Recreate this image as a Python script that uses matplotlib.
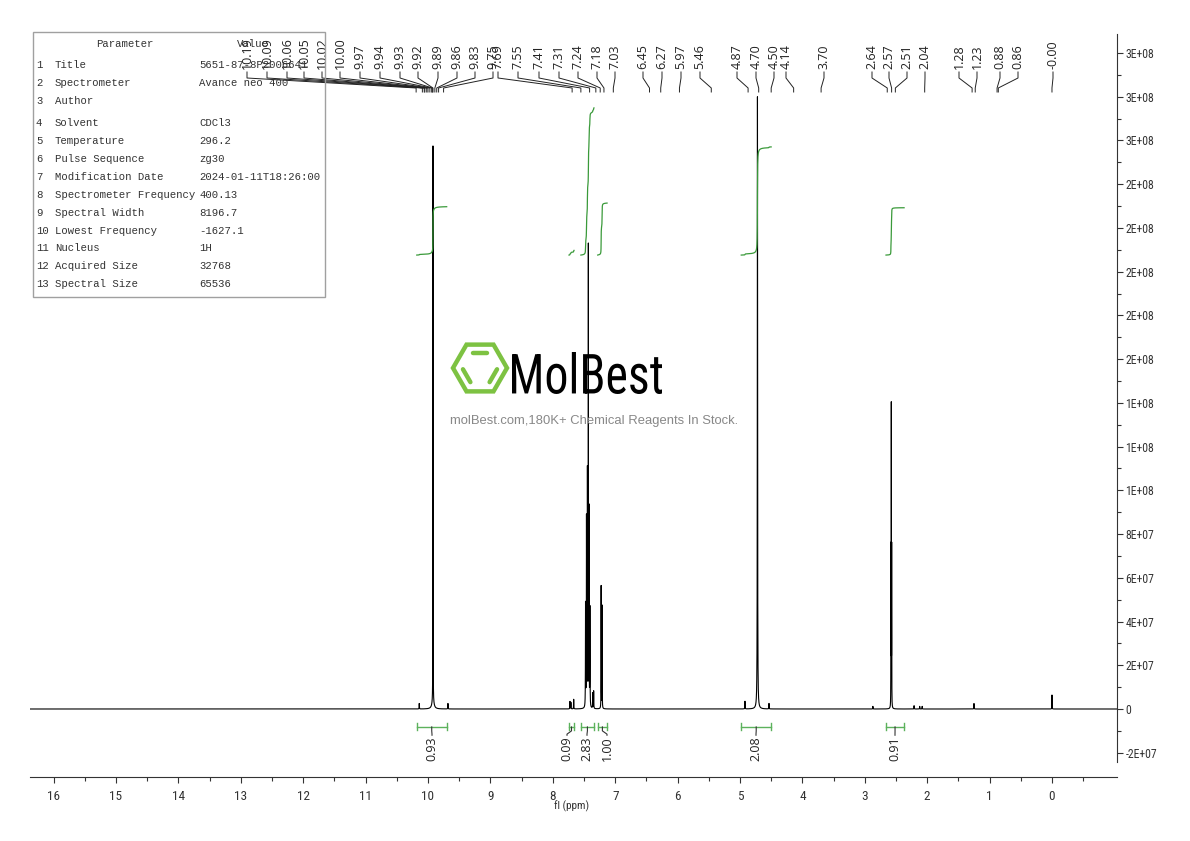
import numpy as np
import matplotlib
matplotlib.use("Agg")
import matplotlib.pyplot as plt
import matplotlib.transforms as mtransforms
from matplotlib.textpath import TextPath
from matplotlib.patches import PathPatch, Polygon, Rectangle
from matplotlib.font_manager import FontProperties, findfont
from matplotlib.ticker import FixedLocator, FuncFormatter

W, H = 1190, 841

# spectrum lines: shift (ppm), height, half width (ppm)
peak_ppm = [10.14, 9.92, 9.92, 9.68,
            7.725, 7.71, 7.665,
            7.475, 7.46, 7.445, 7.43, 7.42, 7.405, 7.36, 7.345,
            7.225, 7.21,
            4.92, 4.72, 4.535,
            2.87, 2.575, 2.581, 2.569, 2.21, 2.12, 2.08, 1.25, 0.00]
peak_height = [2.5e6, 2.545e8, 3.0e6, 2.5e6,
               3.4e6, 3.0e6, 4.4e6,
               4.7e7, 8.6e7, 1.08e8, 2.07e8, 9.0e7, 4.5e7, 7.0e6, 8.0e6,
               5.6e7, 4.7e7,
               3.5e6, 2.80e8, 2.5e6,
               1.2e6, 1.35e8, 7.2e7, 7.2e7, 1.5e6, 1.2e6, 1.2e6, 2.5e6, 6.4e6]
peak_hwhm = [0.002, 0.0012, 0.02, 0.002,
             0.002, 0.002, 0.002,
             0.002, 0.002, 0.002, 0.001, 0.002, 0.002, 0.002, 0.002,
             0.0015, 0.0015,
             0.002, 0.0025, 0.002,
             0.002, 0.0010, 0.0012, 0.0012, 0.002, 0.002, 0.002, 0.002, 0.0015]

# picked peak labels along the top
pick_text = ["10.19", "10.09", "10.06", "10.05", "10.02", "10.00", "9.97", "9.94",
             "9.93", "9.92", "9.89", "9.86", "9.83", "9.75", "7.69", "7.55", "7.41",
             "7.31", "7.24", "7.18", "7.03", "6.45", "6.27", "5.97", "5.46", "4.87",
             "4.70", "4.50", "4.14", "3.70", "2.64", "2.57", "2.51", "2.04", "1.28",
             "1.23", "0.88", "0.86", "-0.00"]
pick_ppm = [float(t) for t in pick_text]
# label slots in figure pixels (spread so the labels do not pile up)
pick_slot_px = [247, 267, 287, 304, 322, 340, 360, 380, 400, 418, 438, 457, 475, 493,
                498, 518, 539, 559, 578, 597, 615, 643, 662, 681, 700, 737, 756, 774,
                786, 824, 872, 889, 907, 925, 959, 977, 1000, 1018, 1053]

# integrals
int_from = [10.18, 7.74, 7.55, 7.28, 4.98, 2.66]
int_to = [9.70, 7.66, 7.34, 7.13, 4.50, 2.37]
int_value = [0.93, 0.09, 2.83, 1.00, 2.08, 0.91]
int_slot_px = [432, 567, 587, 607, 756, 895]

# parameter table
param_names = ["Title", "Spectrometer", "Author", "Solvent", "Temperature",
               "Pulse Sequence", "Modification Date", "Spectrometer Frequency",
               "Spectral Width", "Lowest Frequency", "Nucleus", "Acquired Size",
               "Spectral Size"]
param_values = ["5651-87-8P2006641", "Avance neo 400", "", "CDCl3", "296.2", "zg30",
                "2024-01-11T18:26:00", "400.13", "8196.7", "-1627.1", "1H",
                "32768", "65536"]
row_y = [65, 83, 101, 123, 141, 159, 177, 195, 213, 231, 248, 266, 284]


def first_font(names):
    for n in names:
        try:
            findfont(FontProperties(family=n), fallback_to_default=False)
            return n
        except Exception:
            pass
    return "DejaVu Sans"


narrow = first_font(["Liberation Sans Narrow", "Roboto Condensed", "DejaVu Sans"])
label_font = first_font(["Open Sans", "Noto Sans", "DejaVu Sans"])
mono = first_font(["Liberation Mono", "DejaVu Sans Mono"])

green = "#3a9a3a"
bar_green = "#5cb25c"
axis_col = "#333333"

# axes geometry (pixels) and ppm range
ax_l, ax_r, ax_t, ax_b = 30, 1117, 34, 777
xlim = (16.378, -1.042)


def px_to_ppm(px):
    return xlim[0] + (px - ax_l) / (ax_r - ax_l) * (xlim[1] - xlim[0])


# build spectrum
x = np.linspace(xlim[0], xlim[1], 60000)
x = np.sort(np.concatenate([x, peak_ppm]))[::-1]
y = np.zeros_like(x)
for p, h, w in zip(peak_ppm, peak_height, peak_hwhm):
    y += h * w**2 / ((x - p)**2 + w**2)

fig = plt.figure(figsize=(W / 100, H / 100), dpi=100)
ax = fig.add_axes([ax_l / W, 1 - ax_b / H, (ax_r - ax_l) / W, (ax_b - ax_t) / H])
ax.set_xlim(*xlim)
ax.set_ylim(-3.11e7, 3.087e8)

ax.plot(x, y, color="black", lw=0.8, zorder=3)

# integral curves and bars
base, unit = 2.076e8, 2.378e7
bar_y, cap = -8.2e6, 1.6e6
for f, t, v, spx in zip(int_from, int_to, int_value, int_slot_px):
    s = px_to_ppm(spx)
    m = (x <= f) & (x >= t)
    cum = np.cumsum(y[m])
    ax.plot(x[m], base + v * unit * cum / cum[-1], color=green, lw=0.9, zorder=4)
    ax.plot([f, t], [bar_y, bar_y], color=bar_green, lw=1.0)
    ax.plot([f, f], [bar_y - cap, bar_y + cap], color=bar_green, lw=1.0)
    ax.plot([t, t], [bar_y - cap, bar_y + cap], color=bar_green, lw=1.0)
    c = (f + t) / 2
    ax.plot([c, c, s, s], [bar_y, -1.0e7, -1.15e7, -1.2e7], color=axis_col, lw=0.8)
    ax.text(s, -1.25e7, f"{v:.2f}", rotation=90, ha="center", va="top",
            fontsize=9, family=label_font, color="#222222")

# peak labels with leaders
bt = mtransforms.blended_transform_factory(ax.transData, fig.transFigure)
for t, p, spx in zip(pick_text, pick_ppm, pick_slot_px):
    s = px_to_ppm(spx)
    ax.text(s, 1 - 69 / H, t, rotation=90, ha="center", va="bottom", fontsize=9,
            family=label_font, color="#222222", transform=bt, clip_on=False)
    ax.plot([s, s, p, p], [1 - 72 / H, 1 - 78 / H, 1 - 88 / H, 1 - 92 / H],
            color="#222222", lw=0.7, transform=bt, clip_on=False)

# axes styling
for side in ["left", "top"]:
    ax.spines[side].set_visible(False)
ax.spines["bottom"].set_color(axis_col)
ax.spines["right"].set_color(axis_col)
ax.spines["right"].set_bounds(-2.43e7, 3.087e8)

ax.xaxis.set_major_locator(FixedLocator(np.arange(0, 17)))
ax.xaxis.set_minor_locator(FixedLocator(np.arange(-0.5, 16, 1.0)))
ax.xaxis.set_major_formatter(FuncFormatter(lambda v, _: f"{v:.0f}"))
ax.tick_params(axis="x", which="major", length=4, width=0.8, colors=axis_col,
               pad=5, labelsize=9.5)
ax.tick_params(axis="x", which="minor", length=3, width=0.8, colors=axis_col)

ax.yaxis.tick_right()
ax.yaxis.set_major_locator(FixedLocator(np.arange(-2e7, 3.05e8, 2e7)))
ax.yaxis.set_minor_locator(FixedLocator(np.arange(-1e7, 3.05e8, 2e7)))
ax.yaxis.set_major_formatter(FuncFormatter(lambda v, _: "0" if abs(v) < 1 else f"{v:.0E}"))
ax.tick_params(axis="y", which="major", length=4, width=0.8, colors=axis_col,
               pad=2, labelsize=8.5)
ax.tick_params(axis="y", which="minor", length=3, width=0.8, colors=axis_col)
for lab in ax.get_xticklabels() + ax.get_yticklabels():
    lab.set_family(narrow)

fig.text(572 / W, 1 - 806 / H, "fl (ppm)", ha="center", va="center", fontsize=8,
         family=narrow, color=axis_col)

# parameter table
fig.patches.append(Rectangle((33 / W, 1 - 297 / H), 292 / W, 265 / H, fill=False,
                             edgecolor="#a0a0a0", lw=1.0, transform=fig.transFigure))
fs_tab = 7.7
fig.text(125 / W, 1 - 44 / H, "Parameter", ha="center", va="center", fontsize=fs_tab,
         family=mono, color="#333333")
fig.text(253 / W, 1 - 44 / H, "Value", ha="center", va="center", fontsize=fs_tab,
         family=mono, color="#333333")
for i, (n, v, ry) in enumerate(zip(param_names, param_values, row_y)):
    fig.text(36 / W, 1 - ry / H, str(i + 1), ha="left", va="center", fontsize=fs_tab,
             family=mono, color="#333333")
    fig.text(55 / W, 1 - ry / H, n, ha="left", va="center", fontsize=fs_tab,
             family=mono, color="#333333")
    fig.text(199 / W, 1 - ry / H, v, ha="left", va="center", fontsize=fs_tab,
             family=mono, color="#333333")

# watermark logo
to_fig = mtransforms.Affine2D().scale(1 / W, 1 / H) + fig.transFigure
cx, cy, R = 480, H - 368, 27
ang = np.radians(np.arange(0, 360, 60))
hexv = np.column_stack([cx + R * np.cos(ang), cy + R * np.sin(ang)])
fig.patches.append(Polygon(hexv, closed=True, fill=False, edgecolor="#7dc242",
                           lw=3.2, transform=to_fig, zorder=1))
for i in [1, 3, 5]:
    a, b = hexv[i], hexv[(i + 1) % 6]
    mid = (a + b) / 2
    inward = (np.array([cx, cy]) - mid)
    inward = inward / np.linalg.norm(inward) * 8
    p1 = mid + (a - mid) * 0.55 + inward
    p2 = mid + (b - mid) * 0.55 + inward
    fig.lines.append(plt.Line2D([p1[0], p2[0]], [p1[1], p2[1]], color="#7dc242",
                                lw=3.2, solid_capstyle="round", transform=to_fig))
tp = TextPath((0, 0), "MolBest", size=40, prop=FontProperties(family=narrow,
                                                               weight="normal"))
bb = tp.get_extents()
tr = (mtransforms.Affine2D().translate(-bb.x0, -bb.y0)
      .scale(150 / bb.width, 42 / bb.height).translate(512, H - 394))
fig.patches.append(PathPatch(tr.transform_path(tp), facecolor="black", lw=0,
                             transform=to_fig, zorder=1))
fig.text(594 / W, 1 - 421 / H, "molBest.com,180K+ Chemical Reagents In Stock.",
         ha="center", va="center", fontsize=9.4, color="#888888",
         family=first_font(["Liberation Sans", "DejaVu Sans"]))

fig.savefig("out.png", dpi=100)
